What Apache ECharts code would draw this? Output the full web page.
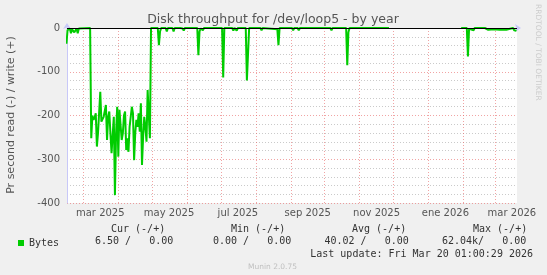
<!DOCTYPE html>
<html><head><meta charset="utf-8">
<script src="https://cdn.jsdelivr.net/npm/echarts@6/dist/echarts.min.js"></script>
<style>html,body{margin:0;padding:0;background:#f0f0f0;}#c{width:547px;height:275px;}</style>
</head><body><div id="c"></div>
<script>
const DAY = 86400000;
const startDate = Date.UTC(2025, 1, 14);          // day 0 of readDays
const axisMin = Date.UTC(2025, 1, 14, 12);
const axisMax = Date.UTC(2026, 2, 20, 12);

// read (negative) bytes per second, day offsets from startDate
const readDays = [0,1,2,3,4,5,6,7,8,9,10,11,12,21,
  22,23,24,25,26,27,28,29,30,31,32,33,34,35,36,37,38,39,40,41,42,43,44,45,46,47,48,
  49,50,51,52,53,54,55,56,57,58,59,60,61,62,63,64,65,66,67,68,69,70,71,72,73,74,75,
  81,82,83,84,88,89,90,94,95,96,101,102,103,104,105,116,117,118,119,121,122,126,127,128,
  138,139,140,141,142,147,148,149,151,152,159,160,161,162,163,164,172,173,174,
  187,188,189,200,201,202,205,206,207,221,222,223,227,228,229,234,235,236,
  248,249,250,251,265,266,267,279,280,281,286,287,349,350,355,356,357,358,361,362,
  369,370,371,374,375,379,380,384,385,390,391,396,397,398,399];
const readValues = [-36,-5,-2,-1,-12,-3,-1,-10,-12,-1,-12,-1,0,0,
  -252,-200,-210,-205,-195,-271,-240,-238,-146,-214,-210,-203,-206,-176,-256,-203,-191,-241,-286,-286,-203,-382,-241,-180,-294,-187,-183,
  -256,-241,-200,-191,-279,-252,-283,-226,-222,-180,-195,-302,-241,-210,-226,-195,-237,-172,-313,-248,-203,-226,-260,-142,-142,-252,0,
  0,-39,-8,0,0,-8,0,0,-8,0,0,-4,-1,-6,0,0,-62,-8,-1,-5,0,0,-3,0,
  0,-113,0,-3,0,0,-6,0,-6,0,0,-120,-120,0,-2,0,0,-5,0,
  -3,-39,0,0,-5,0,0,-5,0,0,-4,0,0,-4,0,0,-5,0,
  0,-85,-10,0,0,-4,0,0,-4,0,0,null,null,0,0,-65,-2,0,-5,0,
  0,-4,0,-4,0,-3,0,-4,0,-4,0,0,-5,-4,-6.5];

const xLabelMonths = [[2025,2],[2025,4],[2025,6],[2025,8],[2025,10],[2026,0],[2026,2]];
const xLabels = ['mar 2025','may 2025','jul 2025','sep 2025','nov 2025','ene 2026','mar 2026'];
const yTicks = [0, -100, -200, -300, -400];

const statHeaders = ['Cur (-/+)', 'Min (-/+)', 'Avg (-/+)', 'Max (-/+)'];
const statValues = ['6.50 /   0.00', '0.00 /   0.00', '40.02 /   0.00', '62.04k/   0.00'];
const lastUpdate = 'Last update: Fri Mar 20 01:00:29 2026';

const seriesData = readDays.map((d, i) => [startDate + d * DAY, readValues[i]]);

// grid ticks
const monthStarts = [];
for (let y = 2025, m = 2; Date.UTC(y, m, 1) <= axisMax; m++) {
  if (m > 11) { m = 0; y++; }
  monthStarts.push(Date.UTC(y, m, 1));
}
const weekStarts = [];
for (let t = Date.UTC(2025, 1, 17); t <= axisMax; t += 7 * DAY) weekStarts.push(t);
const labelValues = xLabelMonths.map(([y, m]) => Date.UTC(y, m, 16));

const chart = echarts.init(document.getElementById('c'), null, {renderer: 'canvas'});
const gray = '#555';
const axisCol = '#c8c8f8';
const mono = '10px "DejaVu Sans Mono"';
chart.setOption({
  backgroundColor: '#f0f0f0',
  animation: false,
  grid: {left: 67, right: 30, top: 28, bottom: 72, show: true, backgroundColor: '#ffffff', borderWidth: 0},
  legend: {
    data: ['Bytes'], left: 13, top: 233, icon: 'rect', itemWidth: 6, itemHeight: 6, itemGap: 5,
    textStyle: {fontFamily: 'DejaVu Sans Mono', fontSize: 10, color: '#333'}
  },
  xAxis: [{
    type: 'value', min: axisMin, max: axisMax, gridIndex: 0,
    axisLine: {show: true, lineStyle: {color: axisCol, width: 1}, symbol: ['none', 'arrow'], symbolSize: [6, 6], symbolOffset: [0, 4]},
    axisTick: {show: false, customValues: monthStarts},
    axisLabel: {
      customValues: labelValues, margin: 5, color: gray, fontSize: 10, fontFamily: 'DejaVu Sans',
      formatter: v => { const i = labelValues.indexOf(v); return i >= 0 ? xLabels[i] : ''; }
    },
    splitLine: {show: true, lineStyle: {color: 'rgba(230,90,90,0.55)', width: 1, type: [1, 2]}}
  }, {
    type: 'value', min: axisMin, max: axisMax, gridIndex: 0, position: 'bottom', z: -1,
    axisLine: {show: false}, axisLabel: {show: false},
    axisTick: {show: false, customValues: weekStarts},
    splitLine: {show: true, lineStyle: {color: 'rgba(150,150,150,0.5)', width: 1, type: [1, 2]}}
  }],
  yAxis: {
    type: 'value', min: -400, max: 0, interval: 100,
    axisLine: {show: true, lineStyle: {color: axisCol, width: 1}, symbol: ['none', 'arrow'], symbolSize: [6, 6], symbolOffset: [0, 5]},
    axisTick: {show: false},
    axisLabel: {margin: 7, color: gray, fontSize: 10, fontFamily: 'DejaVu Sans',
      formatter: v => (yTicks.indexOf(v) >= 0 ? String(v) : '')},
    splitLine: {show: true, lineStyle: {color: 'rgba(230,90,90,0.55)', width: 1, type: [1, 2]}},
    minorTick: {show: false, splitNumber: 5},
    minorSplitLine: {show: true, lineStyle: {color: 'rgba(150,150,150,0.5)', width: 1, type: [1, 2]}}
  },
  series: [{
    name: 'Bytes', type: 'line', xAxisIndex: 0, data: seriesData, showSymbol: false, symbol: 'none',
    connectNulls: false, clip: true,
    lineStyle: {color: '#00cc00', width: 2}, itemStyle: {color: '#00cc00'},
    markLine: {silent: true, symbol: ['none', 'none'], label: {show: false},
      lineStyle: {color: '#000', width: 1, type: 'solid'}, data: [{yAxis: 0}]}
  }],
  graphic: [
    {type: 'text', x: 273, y: 19.5, style: {text: 'Disk throughput for /dev/loop5 - by year', fill: gray,
      font: '12.5px "DejaVu Sans"', align: 'center', verticalAlign: 'middle'}},
    {type: 'text', x: 11.5, y: 115, rotation: Math.PI / 2, style: {text: 'Pr second read (-) / write (+)', fill: gray,
      font: '11px "DejaVu Sans"', align: 'center', verticalAlign: 'middle'}},
    {type: 'text', x: 538, y: 4, rotation: -Math.PI / 2, style: {text: 'RRDTOOL / TOBI OETIKER', fill: '#cccccc',
      font: '7.5px "DejaVu Sans"', align: 'left', verticalAlign: 'middle'}},
    {type: 'text', x: 111, y: 229, style: {text: statHeaders[0], fill: '#333', font: mono, align: 'left', verticalAlign: 'middle'}},
    {type: 'text', x: 231, y: 229, style: {text: statHeaders[1], fill: '#333', font: mono, align: 'left', verticalAlign: 'middle'}},
    {type: 'text', x: 352, y: 229, style: {text: statHeaders[2], fill: '#333', font: mono, align: 'left', verticalAlign: 'middle'}},
    {type: 'text', x: 473, y: 229, style: {text: statHeaders[3], fill: '#333', font: mono, align: 'left', verticalAlign: 'middle'}},
    {type: 'text', x: 95, y: 241.5, style: {text: statValues[0], fill: '#333', font: mono, align: 'left', verticalAlign: 'middle'}},
    {type: 'text', x: 213, y: 241.5, style: {text: statValues[1], fill: '#333', font: mono, align: 'left', verticalAlign: 'middle'}},
    {type: 'text', x: 324.5, y: 241.5, style: {text: statValues[2], fill: '#333', font: mono, align: 'left', verticalAlign: 'middle'}},
    {type: 'text', x: 442, y: 241.5, style: {text: statValues[3], fill: '#333', font: mono, align: 'left', verticalAlign: 'middle'}},
    {type: 'text', x: 533, y: 254.3, style: {text: lastUpdate, fill: '#333', font: mono, align: 'right', verticalAlign: 'middle'}},
    {type: 'text', x: 272.5, y: 267, style: {text: 'Munin 2.0.75', fill: '#c0c0c0', font: '7.5px "DejaVu Sans"', align: 'center', verticalAlign: 'middle'}}
  ]
});
</script></body></html>
